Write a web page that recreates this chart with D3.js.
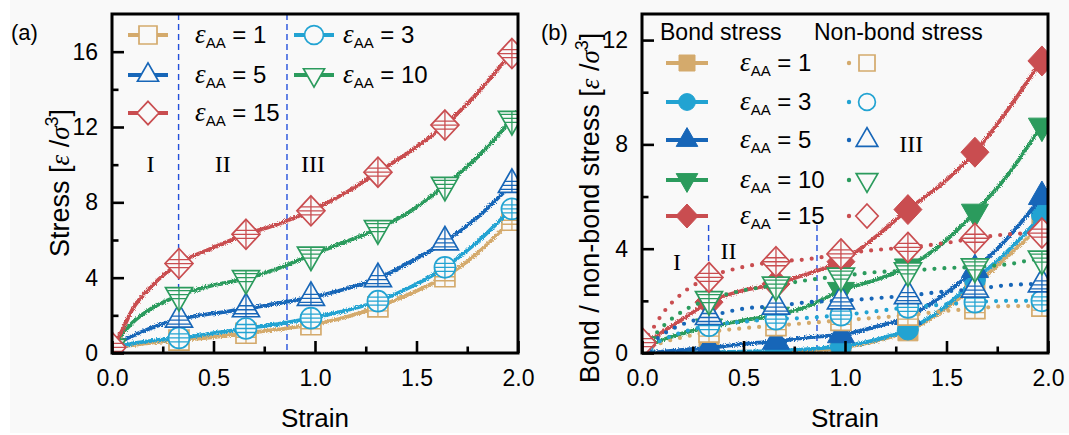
<!DOCTYPE html>
<html>
<head>
<meta charset="utf-8">
<script src="https://cdn.jsdelivr.net/npm/d3@7"></script>
<style>
  body { margin: 0; background: #ffffff; }
  svg { display: block; }
</style>
</head>
<body>
<svg id="fig" width="1069" height="435"></svg>
<script>
// ---------- data ----------
const strain = [0, 0.05, 0.1, 0.2, 0.33, 0.5, 0.66, 0.82, 0.98, 1.15, 1.31, 1.48, 1.64, 1.8, 1.97, 2.0];
const markerStrain = [0, 0.33, 0.66, 0.98, 1.31, 1.64, 1.97];
const epsLabels = ["1", "3", "5", "10", "15"];

// (a) total stress
const stress_eps1  = [0.3, 0.35, 0.42, 0.55, 0.68, 0.85, 1.05, 1.25, 1.5, 1.9, 2.45, 3.2, 4.05, 5.3, 7.05, 7.35];
const stress_eps3  = [0.3, 0.4, 0.5, 0.65, 0.8, 1.05, 1.3, 1.55, 1.85, 2.25, 2.75, 3.55, 4.55, 5.9, 7.65, 7.95];
const stress_eps5  = [0.3, 0.65, 0.9, 1.35, 1.8, 2.1, 2.35, 2.65, 2.95, 3.4, 3.95, 4.9, 5.9, 7.2, 8.95, 9.25];
const stress_eps10 = [0.3, 1.0, 1.6, 2.4, 3.05, 3.6, 3.95, 4.5, 5.2, 5.9, 6.6, 7.6, 8.9, 10.4, 12.4, 12.8];
const stress_eps15 = [0.3, 1.2, 2.3, 3.6, 4.75, 5.6, 6.3, 6.85, 7.55, 8.5, 9.6, 10.8, 12.1, 13.8, 15.9, 16.2];

// (b) bond stress
const bond_eps1  = [0, 0, 0, 0, 0, 0.02, 0.04, 0.08, 0.2, 0.45, 0.85, 1.6, 2.6, 3.7, 5.0, 5.3];
const bond_eps3  = [0, 0, 0, 0, 0.02, 0.05, 0.08, 0.15, 0.25, 0.5, 0.9, 1.7, 2.8, 3.9, 5.3, 5.6];
const bond_eps5  = [0, 0.02, 0.05, 0.12, 0.2, 0.35, 0.45, 0.6, 0.7, 1.0, 1.4, 2.2, 3.2, 4.4, 6.0, 6.3];
const bond_eps10 = [0.3, 0.35, 0.5, 0.75, 1.0, 1.25, 1.45, 1.8, 2.4, 2.8, 3.3, 4.2, 5.4, 6.8, 8.7, 9.0];
const bond_eps15 = [0.3, 0.55, 0.8, 1.3, 1.95, 2.4, 2.65, 3.05, 3.5, 4.45, 5.5, 6.5, 7.7, 9.3, 11.2, 11.5];

// (b) non-bond stress
const nonbond_eps1  = [0.1, 0.25, 0.4, 0.6, 0.8, 0.95, 1.05, 1.15, 1.25, 1.35, 1.45, 1.6, 1.7, 1.8, 1.8, 1.8];
const nonbond_eps3  = [0.1, 0.3, 0.5, 0.8, 1.05, 1.2, 1.3, 1.35, 1.45, 1.6, 1.75, 1.85, 1.95, 2.0, 2.0, 2.0];
const nonbond_eps5  = [0.1, 0.4, 0.7, 1.1, 1.4, 1.7, 1.8, 1.95, 2.0, 2.1, 2.2, 2.35, 2.45, 2.6, 2.65, 2.65];
const nonbond_eps10 = [0.3, 0.6, 1.0, 1.6, 2.05, 2.4, 2.6, 2.8, 2.95, 3.1, 3.15, 3.25, 3.3, 3.4, 3.6, 3.6];
const nonbond_eps15 = [0.4, 0.9, 1.5, 2.3, 2.9, 3.3, 3.5, 3.6, 3.8, 3.95, 4.05, 4.2, 4.4, 4.55, 4.6, 4.6];

const xMajor = [0, 0.5, 1, 1.5, 2];
const xMinor = [0.25, 0.75, 1.25, 1.75];
const yMajorA = [0, 4, 8, 12, 16];
const yMinorA = [2, 6, 10, 14];
const yMajorB = [0, 4, 8, 12];
const yMinorB = [2, 6, 10];
const regionBounds = [0.328, 0.862];

// ---------- styles ----------
const colors = ["#d4aa6c", "#22a3d2", "#1766b8", "#2b9b5d", "#c94d50"];
const shapes = ["square", "circle", "up", "down", "diamond"];
const SANS = "'Liberation Sans', Arial, sans-serif";
const SERIF = "'Liberation Serif', 'Times New Roman', serif";
const BG = "#f9f9f9";

const svg = d3.select("#fig");
const defs = svg.append("defs");

// slight roughness for the simulated stress traces
const rough = defs.append("filter").attr("id", "rough")
  .attr("filterUnits", "userSpaceOnUse").attr("x", 0).attr("y", 0).attr("width", 1069).attr("height", 435);
rough.append("feTurbulence").attr("type", "fractalNoise").attr("baseFrequency", 0.9)
  .attr("numOctaves", 2).attr("seed", 4).attr("result", "noise");
rough.append("feDisplacementMap").attr("in", "SourceGraphic").attr("in2", "noise")
  .attr("scale", 4).attr("xChannelSelector", "R").attr("yChannelSelector", "G");

svg.append("rect").attr("x", 10).attr("y", 0).attr("width", 1059).attr("height", 433).attr("fill", BG);

function shapePath(kind, k) {
  switch (kind) {
    case "square": { const a = 10 * k; return `M${-a},${-a}H${a}V${a}H${-a}Z`; }
    case "circle": { const r = 10.5 * k; return `M${r},0A${r},${r} 0 1,1 ${-r},0A${r},${r} 0 1,1 ${r},0Z`; }
    case "up": return `M0,${-15.5 * k}L${13.5 * k},${8 * k}L${-13.5 * k},${8 * k}Z`;
    case "down": return `M0,${15.5 * k}L${13.5 * k},${-8 * k}L${-13.5 * k},${-8 * k}Z`;
    case "diamond": return `M0,${-15 * k}L${14 * k},0L0,${15 * k}L${-14 * k},0Z`;
  }
}
const barOffsets = {
  square: [-4, 0, 4], circle: [-4, 0, 4], up: [-3, 1, 5], down: [-5, -1, 3], diamond: [-4, 0, 4]
};
shapes.forEach(s => {
  defs.append("clipPath").attr("id", "clip-" + s).append("path").attr("d", shapePath(s, 1));
});

// open marker (background-filled) with inner bar lines
function openMarker(g, shape, cx, cy, color) {
  const m = g.append("g").attr("transform", `translate(${cx},${cy})`);
  m.append("path").attr("d", shapePath(shape, 1)).attr("fill", BG);
  const inner = m.append("g").attr("clip-path", `url(#clip-${shape})`)
    .attr("stroke", color).attr("stroke-width", 1.3);
  inner.append("line").attr("x1", 0).attr("x2", 0).attr("y1", -17).attr("y2", 17);
  barOffsets[shape].forEach(o => {
    inner.append("line").attr("x1", -16).attr("x2", 16).attr("y1", o).attr("y2", o);
  });
  m.append("path").attr("d", shapePath(shape, 1)).attr("fill", "none")
    .attr("stroke", color).attr("stroke-width", 1.7);
}
function filledMarker(g, shape, cx, cy, color, k) {
  g.append("path").attr("d", shapePath(shape, k)).attr("transform", `translate(${cx},${cy})`)
    .attr("fill", color).attr("stroke", color).attr("stroke-width", 1);
}
function plainOpen(g, shape, cx, cy, color, k, fill) {
  g.append("path").attr("d", shapePath(shape, k)).attr("transform", `translate(${cx},${cy})`)
    .attr("fill", fill).attr("stroke", color).attr("stroke-width", 1.7);
}

// ---------- panel frame + axes ----------
function panel(opts) {
  const x = d3.scaleLinear().domain([0, 2]).range([opts.left, opts.right]);
  const y = d3.scaleLinear().domain([0, opts.yMax]).range([opts.bottom, opts.top]);
  const g = svg.append("g");
  const clipId = "plot-" + opts.id;
  defs.append("clipPath").attr("id", clipId).append("rect")
    .attr("x", opts.left).attr("y", opts.top).attr("width", opts.right - opts.left).attr("height", opts.bottom - opts.top);
  const data = g.append("g").attr("clip-path", `url(#${clipId})`);
  return { x, y, g, data, opts };
}

function finishAxes(p, yMajor, yMinor) {
  const { x, y, g, opts } = p;
  const styleAxis = sel => {
    sel.select(".domain").remove();
    sel.selectAll("line").attr("stroke", "#000").attr("stroke-width", 2.6);
    sel.selectAll("text").attr("font-family", SANS).attr("font-size", 23).attr("fill", "#000");
  };
  g.append("g").attr("transform", `translate(0,${opts.bottom})`)
    .call(d3.axisBottom(x).tickValues(xMajor).tickSize(-12).tickPadding(17).tickFormat(d3.format(".1f")))
    .call(styleAxis);
  g.append("g").attr("transform", `translate(0,${opts.bottom})`)
    .call(d3.axisBottom(x).tickValues(xMinor).tickSize(-6.5).tickFormat(""))
    .call(styleAxis);
  g.append("g").attr("transform", `translate(${opts.left},0)`)
    .call(d3.axisLeft(y).tickValues(yMajor).tickSize(-12).tickPadding(14).tickFormat(d3.format("d")))
    .call(styleAxis);
  g.append("g").attr("transform", `translate(${opts.left},0)`)
    .call(d3.axisLeft(y).tickValues(yMinor).tickSize(-6.5).tickFormat(""))
    .call(styleAxis);
  g.append("rect").attr("x", opts.left).attr("y", opts.top)
    .attr("width", opts.right - opts.left).attr("height", opts.bottom - opts.top)
    .attr("fill", "none").attr("stroke", "#000").attr("stroke-width", 3);
  g.append("text").attr("x", (opts.left + opts.right) / 2).attr("y", 427)
    .attr("text-anchor", "middle").attr("font-family", SANS).attr("font-size", 26).text("Strain");
}

function unitLabel(text, prefix) {
  // prefix + [ε /σ^3]
  text.append("tspan").text(prefix + "[");
  text.append("tspan").attr("font-family", SERIF).attr("font-style", "italic").text("ε");
  text.append("tspan").text(" /");
  text.append("tspan").attr("font-family", SERIF).attr("font-style", "italic").text("σ");
  text.append("tspan").attr("font-size", 18).attr("dy", -11).text("3");
  text.append("tspan").attr("dy", 11).text("]");
}

function epsText(g, x, yBase, value) {
  const t = g.append("text").attr("x", x).attr("y", yBase).attr("font-family", SANS).attr("font-size", 24);
  t.append("tspan").attr("font-family", SERIF).attr("font-style", "italic").attr("font-size", 27).text("ε");
  t.append("tspan").attr("font-size", 15).attr("dy", 5).text("AA");
  t.append("tspan").attr("dy", -5).text(" = " + value);
}

const line = (x, y) => d3.line().x((d, i) => x(strain[i])).y(d => y(d)).curve(d3.curveMonotoneX);
const idxOf = s => strain.indexOf(s);

// =========== (a) total stress ===========
const stressA = [stress_eps1, stress_eps3, stress_eps5, stress_eps10, stress_eps15];
const pa = panel({ id: "a", left: 112, right: 518, top: 14, bottom: 353, yMax: 18 });

pa.data.selectAll("line.div").data(regionBounds).join("line")
  .attr("x1", d => pa.x(d)).attr("x2", d => pa.x(d)).attr("y1", 14).attr("y2", 353)
  .attr("stroke", "#2350dc").attr("stroke-width", 1.4).attr("stroke-dasharray", "6,4");

stressA.forEach((vals, si) => {
  pa.data.append("path").datum(vals).attr("d", line(pa.x, pa.y))
    .attr("fill", "none").attr("stroke", colors[si]).attr("stroke-width", 3.8)
    .attr("stroke-linejoin", "round").attr("filter", "url(#rough)");
  markerStrain.forEach(s => openMarker(pa.data, shapes[si], pa.x(s), pa.y(vals[idxOf(s)]), colors[si]));
});

const regionA = [["I", 0.19, 9.6], ["II", 0.545, 9.6], ["III", 0.99, 9.6]];
pa.g.selectAll("text.region").data(regionA).join("text")
  .attr("x", d => pa.x(d[1])).attr("y", d => pa.y(d[2])).attr("text-anchor", "middle")
  .attr("font-family", SERIF).attr("font-size", 24).text(d => d[0]);

finishAxes(pa, yMajorA, yMinorA);

// legend (a)
const legA = [[0, 0, 0], [1, 1, 0], [2, 0, 1], [3, 1, 1], [4, 0, 2]];
const legAcols = [148, 314], legAtext = [195, 343], legArows = [35, 75, 113];
legA.forEach(([si, c, r]) => {
  const cx = legAcols[c], cy = legArows[r];
  pa.g.append("line").attr("x1", cx - 20).attr("x2", cx + 20).attr("y1", cy).attr("y2", cy)
    .attr("stroke", colors[si]).attr("stroke-width", 4);
  const k = (shapes[si] === "square" || shapes[si] === "circle") ? 0.9 : 0.78;
  plainOpen(pa.g, shapes[si], cx, cy, colors[si], k, BG);
  epsText(pa.g, legAtext[c], cy + 8, epsLabels[si]);
});

svg.append("text").attr("x", 11).attr("y", 40).attr("font-family", SANS).attr("font-size", 22).text("(a)");
const ta = svg.append("text").attr("transform", "translate(69,183) rotate(-90)")
  .attr("text-anchor", "middle").attr("font-family", SANS).attr("font-size", 27);
unitLabel(ta, "Stress ");

// =========== (b) bond / non-bond stress ===========
const bondB = [bond_eps1, bond_eps3, bond_eps5, bond_eps10, bond_eps15];
const nonbondB = [nonbond_eps1, nonbond_eps3, nonbond_eps5, nonbond_eps10, nonbond_eps15];
const pb = panel({ id: "b", left: 642, right: 1048, top: 14, bottom: 353, yMax: 13 });

pb.data.selectAll("line.div").data(regionBounds).join("line")
  .attr("x1", d => pb.x(d)).attr("x2", d => pb.x(d)).attr("y1", 225).attr("y2", 353)
  .attr("stroke", "#2350dc").attr("stroke-width", 1.4).attr("stroke-dasharray", "6,4");

bondB.forEach((vals, si) => {
  pb.data.append("path").datum(vals).attr("d", line(pb.x, pb.y))
    .attr("fill", "none").attr("stroke", colors[si]).attr("stroke-width", 3.8)
    .attr("stroke-linejoin", "round").attr("filter", "url(#rough)");
  markerStrain.forEach(s => filledMarker(pb.data, shapes[si], pb.x(s), pb.y(vals[idxOf(s)]), colors[si], 1));
});
nonbondB.forEach((vals, si) => {
  pb.data.append("path").datum(vals).attr("d", line(pb.x, pb.y))
    .attr("fill", "none").attr("stroke", colors[si]).attr("stroke-width", 4.2)
    .attr("stroke-linecap", "round").attr("stroke-dasharray", "0,10");
  markerStrain.forEach(s => openMarker(pb.data, shapes[si], pb.x(s), pb.y(vals[idxOf(s)]), colors[si]));
});

const regionB = [["I", 0.172, 3.2], ["II", 0.426, 3.6], ["III", 1.326, 7.7]];
pb.g.selectAll("text.region").data(regionB).join("text")
  .attr("x", d => pb.x(d[1])).attr("y", d => pb.y(d[2])).attr("text-anchor", "middle")
  .attr("font-family", SERIF).attr("font-size", 24).text(d => d[0]);

finishAxes(pb, yMajorB, yMinorB);

// legend (b)
pb.g.append("text").attr("x", 660).attr("y", 40).attr("font-family", SANS).attr("font-size", 23).text("Bond stress");
pb.g.append("text").attr("x", 814).attr("y", 40).attr("font-family", SANS).attr("font-size", 23).text("Non-bond stress");
const legBrows = [63, 102, 140, 180, 216];
epsLabels.forEach((lab, si) => {
  const cy = legBrows[si];
  pb.g.append("line").attr("x1", 666).attr("x2", 708).attr("y1", cy).attr("y2", cy)
    .attr("stroke", colors[si]).attr("stroke-width", 4);
  filledMarker(pb.g, shapes[si], 687, cy, colors[si], 0.8);
  epsText(pb.g, 740, cy + 8, lab);
  pb.g.append("circle").attr("cx", 849).attr("cy", cy).attr("r", 2.2).attr("fill", colors[si]);
  plainOpen(pb.g, shapes[si], 867, cy, colors[si], 0.8, "none");
});

svg.append("text").attr("x", 541).attr("y", 40).attr("font-family", SANS).attr("font-size", 22).text("(b)");
const tb = svg.append("text").attr("transform", "translate(599,208) rotate(-90)")
  .attr("text-anchor", "middle").attr("font-family", SANS).attr("font-size", 27);
unitLabel(tb, "Bond / non-bond stress ");
</script>
</body>
</html>
